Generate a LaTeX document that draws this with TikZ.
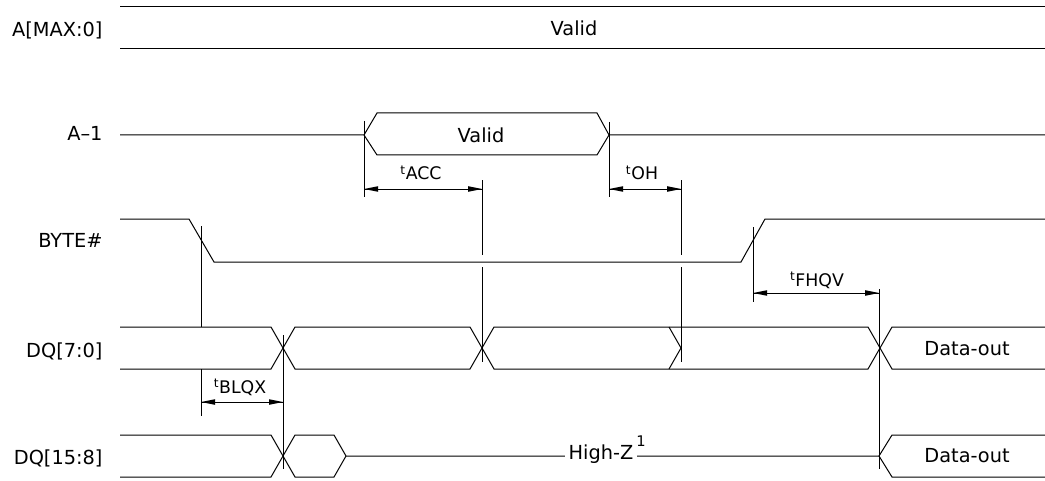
\documentclass[tikz,border=0pt]{standalone}
\usepackage{fontspec}
\setmainfont{DejaVu Sans}

\tikzset{every picture/.style={line width=0.75pt}}

\begin{document}
\begin{tikzpicture}[x=0.75pt,y=0.75pt,yscale=-1,xscale=1,
	siglabel/.style={anchor=east, inner sep=0.75pt, text height=10.6pt, text depth=0pt, font=\fontsize{14.5}{16}\selectfont},
	buslabel/.style={inner sep=0.75pt, text height=10.6pt, text depth=0pt, font=\fontsize{14.5}{16}\selectfont},
	timelabel/.style={anchor=base, inner sep=0.75pt, font=\fontsize{13}{15}\selectfont},
	tiphead/.style={fill={rgb, 255:red, 0; green, 0; blue, 0 }, line width=0.08, draw opacity=0}]
	\useasboundingbox (0,0) rectangle (1045,481);

	%Bus: A[MAX:0]
	\draw    (120,7) -- (1045,7) ;
	\draw    (120,49) -- (1045,49) ;
	%Bus: A-1
	\draw    (120,135) -- (364,135) -- (377,113) -- (597,113) -- (609,135) -- (1045,135) ;
	\draw    (364,135) -- (377,155) -- (597,155) -- (609,135) ;
	%Signal: BYTE#
	\draw    (120,219) -- (189,219) -- (214,262) -- (741,262) -- (765,219) -- (1045,219) ;
	%Bus: DQ[7:0]
	\draw    (120,327) -- (271,327) -- (295,369) -- (470,369) -- (494,327) -- (868,327) -- (892,369) -- (1045,369) ;
	\draw    (120,369) -- (271,369) -- (295,327) -- (470,327) -- (494,369) -- (868,369) -- (892,327) -- (1045,327) ;
	\draw    (669,327) -- (681,348) -- (669,369) ;
	%Bus: DQ[15:8]
	\draw    (120,435) -- (271,435) -- (295,477) -- (334,477) -- (346,456) -- (879,456) -- (892,435) -- (1045,435) ;
	\draw    (120,477) -- (271,477) -- (295,435) -- (334,435) -- (346,456) ;
	\draw    (879,456) -- (892,477) -- (1045,477) ;

	%Straight Lines: timing references
	\draw    (364,121) -- (364,197) ;
	\draw    (609,122) -- (609,197) ;
	\draw    (482,180) -- (482,255) ;
	\draw    (482,267) -- (482,362) ;
	\draw    (681,180) -- (681,255) ;
	\draw    (681,267) -- (681,362) ;
	\draw    (201,226) -- (201,327) ;
	\draw    (201,369) -- (201,416) ;
	\draw    (283,335) -- (283,469) ;
	\draw    (753,227) -- (753,302) ;
	\draw    (879,289) -- (879,469) ;

	%Straight Lines: tACC
	\draw    (364,189) -- (482,189) ;
	\draw [shift={(364,189)}, rotate = 0] [tiphead] (14,-2.8) -- (0,0) -- (14,2.8) -- cycle ;
	\draw [shift={(482,189)}, rotate = 180] [tiphead] (14,-2.8) -- (0,0) -- (14,2.8) -- cycle ;
	%Straight Lines: tOH
	\draw    (609,189) -- (681,189) ;
	\draw [shift={(609,189)}, rotate = 0] [tiphead] (14,-2.8) -- (0,0) -- (14,2.8) -- cycle ;
	\draw [shift={(681,189)}, rotate = 180] [tiphead] (14,-2.8) -- (0,0) -- (14,2.8) -- cycle ;
	%Straight Lines: tFHQV
	\draw    (753,293) -- (879,293) ;
	\draw [shift={(753,293)}, rotate = 0] [tiphead] (14,-2.8) -- (0,0) -- (14,2.8) -- cycle ;
	\draw [shift={(879,293)}, rotate = 180] [tiphead] (14,-2.8) -- (0,0) -- (14,2.8) -- cycle ;
	%Straight Lines: tBLQX
	\draw    (201,402) -- (283,402) ;
	\draw [shift={(201,402)}, rotate = 0] [tiphead] (14,-2.8) -- (0,0) -- (14,2.8) -- cycle ;
	\draw [shift={(283,402)}, rotate = 180] [tiphead] (14,-2.8) -- (0,0) -- (14,2.8) -- cycle ;

	% Text Node
	\draw (104,29) node [siglabel] (amax) {A[MAX:0]};
	% Text Node
	\draw (104,133) node [siglabel] (aminus) {A–1};
	% Text Node
	\draw (104,240) node [siglabel] (byte) {BYTE\#};
	% Text Node
	\draw (104,350) node [siglabel] (dqlow) {DQ[7:0]};
	% Text Node
	\draw (104,457) node [siglabel] (dqhigh) {DQ[15:8]};
	% Text Node
	\draw (574,28.5) node [buslabel] (amaxval) {Valid};
	% Text Node
	\draw (481,135.5) node [buslabel] (aminusval) {Valid};
	% Text Node
	\draw (967,348) node [buslabel] (dqlowout) {Data-out};
	% Text Node
	\draw (967,455) node [buslabel] (dqhighout) {Data-out};
	% Text Node
	\draw (601,452.5) node [buslabel, fill=white, inner xsep=3pt] (highz) {High-Z};
	% Text Node
	\draw (641,441) node [inner sep=0.75pt, font=\fontsize{11}{13}\selectfont] (highzsup) {1};
	% Text Node
	\draw (421,180) node [timelabel] (tacc) {\textsuperscript{t}ACC};
	% Text Node
	\draw (642,180) node [timelabel] (toh) {\textsuperscript{t}OH};
	% Text Node
	\draw (817,286) node [timelabel] (tfhqv) {\textsuperscript{t}FHQV};
	% Text Node
	\draw (240,393) node [timelabel] (tblqx) {\textsuperscript{t}BLQX};
\end{tikzpicture}
\end{document}
